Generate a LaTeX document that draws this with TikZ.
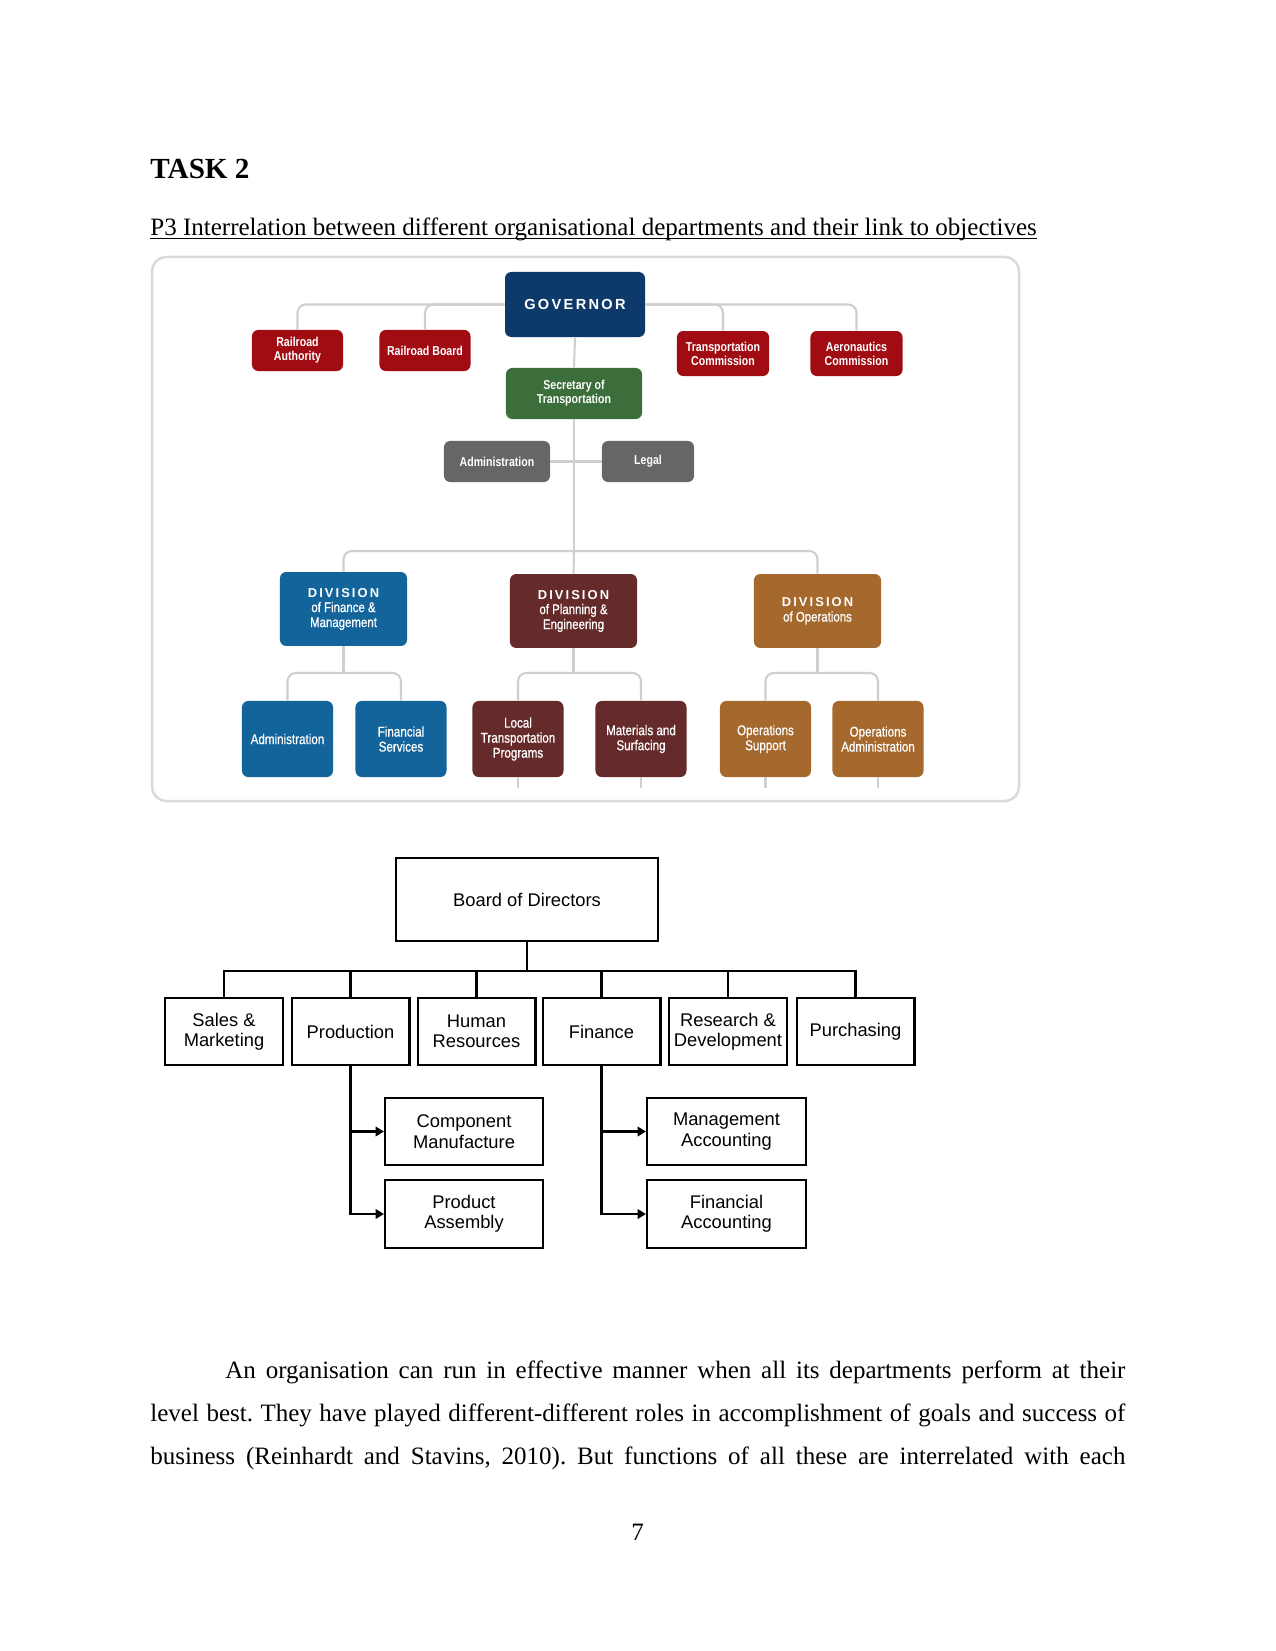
\documentclass[tikz,border=0pt]{standalone}
\usepackage{fontspec}
\setmainfont{Liberation Serif}
\newfontfamily\orgfont{Liberation Sans}
\newfontfamily\narrowfont[FakeStretch=0.82]{Liberation Sans}
\newfontfamily\narrowmed[FakeStretch=0.82,FakeBold=0.7]{Liberation Sans}
\newfontfamily\spacedfont[LetterSpace=16]{Liberation Sans}
\usetikzlibrary{arrows.meta}
\newcommand\ulx[1]{\setbox0\hbox{#1}\rlap{\rule[-1.4pt]{\wd0}{0.6pt}}\box0}
\definecolor{govblue}{HTML}{0E3A6B}
\definecolor{rred}{HTML}{A00C12}
\definecolor{sgreen}{HTML}{3B6E3A}
\definecolor{dgray}{HTML}{666666}
\definecolor{fblue}{HTML}{13649B}
\definecolor{pmaroon}{HTML}{652A2A}
\definecolor{obrown}{HTML}{A5692D}
\definecolor{connc}{HTML}{CFCFCF}
\definecolor{framec}{HTML}{DADADA}
\begin{document}
\frenchspacing
\begin{tikzpicture}[x=0.48pt,y=-0.48pt,
  cbox/.style={rounded corners=3pt, draw=none, text=white, align=center, inner sep=1pt},
  topfont/.style={font=\narrowfont\bfseries\fontsize{6.2}{6.8}\selectfont},
  lowfont/.style={font=\narrowmed\fontsize{6.8}{7.2}\selectfont},
  redbox/.style={cbox, topfont, fill=rred, minimum width=43.7pt, minimum height=19.7pt},
  redbox2/.style={cbox, topfont, fill=rred, minimum width=44.2pt, minimum height=21.6pt},
  graybox/.style={cbox, topfont, fill=dgray, minimum height=19.7pt},
  divbox/.style={cbox, font=\narrowmed\fontsize{6.7}{7.2}\selectfont, minimum width=61pt, minimum height=35.5pt},
  subbox/.style={cbox, lowfont, minimum width=43.7pt, minimum height=36.5pt},
  conn/.style={draw=connc, line width=1pt, rounded corners=4pt},
  obox/.style={draw, line width=1pt, fill=white, align=center, inner sep=1pt,
    font=\orgfont\fontsize{8.8}{9.8}\selectfont},
  oline/.style={line width=1pt},
  oarrow/.style={line width=1pt, -{Triangle[length=4pt,width=4.5pt]}}
]
\useasboundingbox (0,0) rectangle (1275,1651);
\fill[white] (0,0) rectangle (1275,1651);

% ---------- headings ----------
\node[anchor=base west, inner sep=0pt, font=\bfseries\fontsize{14}{16}\selectfont] (task) at (150,179) {TASK 2};
\node[anchor=base west, inner sep=0pt, font=\fontsize{12}{14}\selectfont] (head) at (150,236)
  {\ulx{P3 Interrelation between different organisational departments and their link to objectives}};

% ---------- first chart frame ----------
\draw[framec, line width=1.2pt, rounded corners=7pt] (152,257) rectangle (1019,801);

% ---------- first chart nodes ----------
\node[cbox, fill=govblue, minimum width=67.2pt, minimum height=31.2pt,
  font=\spacedfont\bfseries\fontsize{7}{8}\selectfont] (gov) at (575,304.5) {GOVERNOR};
\node[redbox] (ra) at (297.5,350.5) {Railroad\\Authority};
\node[redbox] (rb) at (425,350.5) {Railroad Board};
\node[redbox2] (tc) at (723,353.5) {Transportation\\Commission};
\node[redbox2] (ac) at (856.5,353.5) {Aeronautics\\Commission};
\node[cbox, topfont, fill=sgreen, minimum width=65.3pt, minimum height=24.5pt] (sec) at (574,393.5) {Secretary of\\Transportation};
\node[graybox, minimum width=50.9pt] (adm) at (497,461.5) {Administration};
\node[graybox, minimum width=44.2pt] (leg) at (648,461.5) {Legal};

\node[divbox, fill=fblue] (df) at (343.5,609)
  {{\spacedfont\bfseries\fontsize{6.2}{7}\selectfont DIVISION}\\of Finance \&\\Management};
\node[divbox, fill=pmaroon] (dp) at (573.5,611)
  {{\spacedfont\bfseries\fontsize{6.2}{7}\selectfont DIVISION}\\of Planning \&\\Engineering};
\node[divbox, fill=obrown] (do) at (817.5,611)
  {{\spacedfont\bfseries\fontsize{6.2}{7}\selectfont DIVISION}\\of Operations};

\node[subbox, fill=fblue] (a2) at (287.5,739) {Administration};
\node[subbox, fill=fblue] (fs) at (401,739) {Financial\\Services};
\node[subbox, fill=pmaroon] (ltp) at (518,739) {Local\\Transportation\\Programs};
\node[subbox, fill=pmaroon] (ms) at (641,739) {Materials and\\Surfacing};
\node[subbox, fill=obrown] (os) at (765.5,739) {Operations\\Support};
\node[subbox, fill=obrown] (oa) at (878,739) {Operations\\Administration};

% ---------- first chart connectors ----------
\coordinate (jdiv) at (574,551);
\coordinate (kf) at (343.5,673);
\coordinate (kp) at (573.5,673);
\coordinate (ko) at (817.5,673);
\coordinate (stub) at (0,788);
\draw[conn] (ra.north) |- (gov.west);
\draw[conn] (rb.north) |- (gov.west);
\draw[conn] (tc.north) |- (gov.east);
\draw[conn] (ac.north) |- (gov.east);
\draw[conn] (gov.south) -- (sec.north);
\draw[conn] (adm.east) -- (leg.west);
\draw[conn] (sec.south) -- (jdiv);
\draw[conn] (df.north) |- (jdiv) -| (do.north);
\draw[conn] (jdiv) -- (dp.north);
\draw[conn] (df.south) -- (kf);
\draw[conn] (a2.north) |- (kf) -| (fs.north);
\draw[conn] (dp.south) -- (kp);
\draw[conn] (ltp.north) |- (kp) -| (ms.north);
\draw[conn] (do.south) -- (ko);
\draw[conn] (os.north) |- (ko) -| (oa.north);
\draw[conn] (ltp.south) -- (ltp.south |- stub);
\draw[conn] (ms.south) -- (ms.south |- stub);
\draw[conn] (os.south) -- (os.south |- stub);
\draw[conn] (oa.south) -- (oa.south |- stub);

% ---------- second chart ----------
\node[obox, minimum width=125.8pt, minimum height=39.8pt] (bod) at (527,899.5) {Board of Directors};
\node[obox, minimum width=56.6pt, minimum height=32.2pt] (sm) at (224,1031.5) {Sales \&\\Marketing};
\node[obox, minimum width=56.6pt, minimum height=32.2pt] (pr) at (350.5,1031.5) {Production};
\node[obox, minimum width=56.6pt, minimum height=32.2pt] (hr) at (476.5,1031.5) {Human\\Resources};
\node[obox, minimum width=56.6pt, minimum height=32.2pt] (fi) at (601.5,1031.5) {Finance};
\node[obox, minimum width=56.6pt, minimum height=32.2pt] (rd) at (728,1031.5) {Research \&\\Development};
\node[obox, minimum width=56.6pt, minimum height=32.2pt] (pu) at (855.5,1031.5) {Purchasing};
\node[obox, minimum width=75.8pt, minimum height=32.2pt] (cm) at (464,1131.5) {Component\\Manufacture};
\node[obox, minimum width=75.8pt, minimum height=32.6pt] (pa) at (464,1214) {Product\\Assembly};
\node[obox, minimum width=76.3pt, minimum height=32.2pt] (ma) at (726.5,1131.5) {Management\\Accounting};
\node[obox, minimum width=76.3pt, minimum height=32.6pt] (fa) at (726.5,1214) {Financial\\Accounting};

\coordinate (bar) at (527,971);
\draw[oline] (bod.south) -- (bar);
\draw[oline] (sm.north) |- (bar) -| (pu.north);
\draw[oline] (pr.north) -- (pr.north |- bar);
\draw[oline] (hr.north) -- (hr.north |- bar);
\draw[oline] (fi.north) -- (fi.north |- bar);
\draw[oline] (rd.north) -- (rd.north |- bar);
\draw[oarrow] (pr.south) |- (pa.west);
\draw[oarrow] (pr.south |- cm.west) -- (cm.west);
\draw[oarrow] (fi.south) |- (fa.west);
\draw[oarrow] (fi.south |- ma.west) -- (ma.west);

% ---------- body text ----------
\node[anchor=base west, inner sep=0pt, font=\fontsize{12}{14}\selectfont] (l1) at (150,1378)
  {\makebox[468pt][s]{\hspace*{36pt}An organisation can run in effective manner when all its departments perform at their}};
\node[anchor=base west, inner sep=0pt, font=\fontsize{12}{14}\selectfont] (l2) at (150,1421)
  {\makebox[468pt][s]{level best. They have played different-different roles in accomplishment of goals and success of}};
\node[anchor=base west, inner sep=0pt, font=\fontsize{12}{14}\selectfont] (l3) at (150,1464)
  {\makebox[468pt][s]{business (Reinhardt and Stavins, 2010). But functions of all these are interrelated with each}};
\node[anchor=base, inner sep=0pt, font=\fontsize{12}{14}\selectfont] (pg) at (637.5,1540) {7};
\end{tikzpicture}
\end{document}
